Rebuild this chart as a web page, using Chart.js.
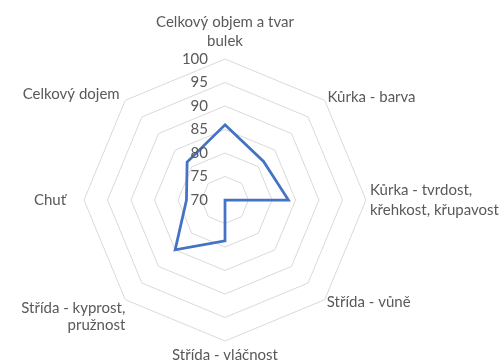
<!DOCTYPE html>
<html>
<head>
<meta charset="utf-8">
<script src="https://cdn.jsdelivr.net/npm/chart.js@4/dist/chart.umd.min.js"></script>
<style>
  html, body { margin: 0; padding: 0; background: #fff; overflow: hidden; }
  body { width: 504px; height: 364px; position: relative; }
  /* the canvas is a bit larger than the page so the plot sits where Excel puts it */
  #chart { position: absolute; left: -34px; top: 1px; }
</style>
</head>
<body>
<canvas id="chart" width="560" height="376"></canvas>
<script>
const categories = [
  ["Celkový objem a tvar", "bulek"],
  "Kůrka - barva",
  ["Kůrka - tvrdost,", "křehkost, křupavost"],
  "Střída - vůně",
  "Střída - vláčnost",
  ["Střída - kyprost,", "pružnost"],
  "Chuť",
  "Celkový dojem"
];
const scores = [86, 81.6, 83.5, 70, 78.7, 85, 78.2, 81.4];
const tickValues = [70, 75, 80, 85, 90, 95, 100];

// gap between the outer ring and each category label
const labelGaps = [8, 4, 4, 3, 4, 0, 18, 8];
// line height per label; the diagonal one-liners get a tiny one so they sit level with the corner
const labelLineHeights = [1.3, 0.1, 1.3, 0.1, 1.3, 1.15, 1.3, 0.1];

const textColor = "#595959";
const fontFamily = "Lato, 'Open Sans', sans-serif";

// tick numbers sit just left of the vertical axis, like Excel draws them
const sideTicks = {
  id: "sideTicks",
  afterDatasetsDraw(chart) {
    const r = chart.scales.r;
    const ctx = chart.ctx;
    ctx.save();
    ctx.font = "15px " + fontFamily;
    ctx.fillStyle = textColor;
    ctx.textAlign = "right";
    ctx.textBaseline = "middle";
    tickValues.forEach(v => {
      const d = r.getDistanceFromCenterForValue(v);
      ctx.fillText(String(v), r.xCenter - 17, r.yCenter - d);
    });
    ctx.restore();
  }
};

new Chart(document.getElementById("chart"), {
  type: "radar",
  data: {
    labels: categories,
    datasets: [{
      data: scores,
      borderColor: "#4472C4",
      borderWidth: 2.75,
      fill: false,
      pointRadius: 0,
      pointHoverRadius: 0,
      tension: 0
    }]
  },
  options: {
    responsive: false,
    animation: false,
    devicePixelRatio: 1,
    plugins: {
      legend: { display: false },
      tooltip: { enabled: false }
    },
    scales: {
      r: {
        min: 70,
        max: 100,
        ticks: { display: false, stepSize: 5 },
        grid: { color: "#d9d9d9", lineWidth: 1 },
        angleLines: { display: false },
        pointLabels: {
          color: textColor,
          padding: ctx => labelGaps[ctx.index],
          font: ctx => ({ family: fontFamily, size: 15, lineHeight: labelLineHeights[ctx.index] })
        }
      }
    }
  },
  plugins: [sideTicks]
});
</script>
</body>
</html>
